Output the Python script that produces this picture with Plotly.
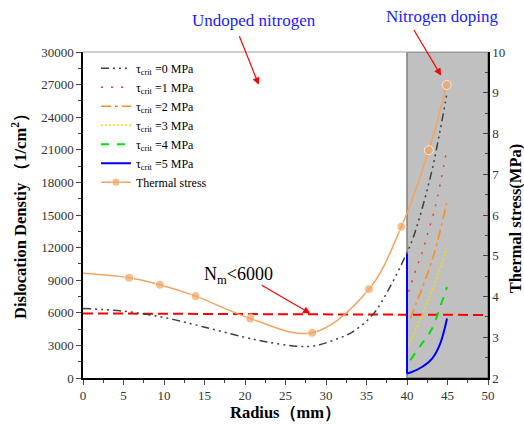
import plotly.graph_objects as go

# ---------------- data ----------------
# Thermal stress (right axis, MPa); first point is line start (no marker)
ts_x = [0, 5.7, 9.5, 13.9, 20.65, 28.3, 35.3, 39.3, 42.7, 44.9]
ts_y = [4.57, 4.46, 4.29, 4.01, 3.46, 3.11, 4.18, 5.71, 7.59, 9.19]

# Dislocation density, tau_crit = 0 MPa
t0_x = [0, 5.0, 10.0, 14.9, 19.8, 22.7, 26.4, 28.5, 30.9, 33.4, 35.9, 37.9, 39.6, 40.8, 42.9, 44.1, 44.9]
t0_y = [6400, 6150, 5570, 4700, 3780, 3320, 2920, 2950, 3470, 4300, 5940, 8390, 10900, 13000, 18530, 22830, 26060]
# tau_crit = 1 MPa
t1_x = [40.2, 41.2, 41.85, 42.5, 43.5, 44.9]
t1_y = [7930, 10200, 11470, 13160, 15770, 21000]
# tau_crit = 2 MPa
t2_x = [40.4, 41.85, 42.9, 43.7, 44.9]
t2_y = [5480, 8240, 10390, 12390, 16080]
# tau_crit = 3 MPa
t3_x = [40.2, 41.85, 43.1, 44.3, 44.94]
t3_y = [3010, 5780, 8080, 10550, 11930]
# tau_crit = 4 MPa
t4_x = [40.4, 41.85, 43.1, 44.1, 44.94]
t4_y = [1630, 3170, 4550, 6550, 8390]
# tau_crit = 5 MPa (vertical boundary part, then curve)
t5_edge_x = [40.0, 40.0]
t5_edge_y = [11400, 400]
t5_x = [40.0, 40.6, 41.85, 43.1, 44.1, 44.94]
t5_y = [400, 550, 1010, 1790, 3170, 5480]

# Critical line N_m < 6000
nm_x = [0, 50]
nm_y = [5940, 5800]

x_ticks = [0, 5, 10, 15, 20, 25, 30, 35, 40, 45, 50]
y_ticks = [0, 3000, 6000, 9000, 12000, 15000, 18000, 21000, 24000, 27000, 30000]
y_ticklabels = ["0", "3000", "6000", "9000", "12000", "15000", "18000", "21000", "24000", "27000", "30000"]
y2_ticks = [2, 3, 4, 5, 6, 7, 8, 9, 10]

SERIF = "Liberation Serif"

fig = go.Figure()

fig.add_trace(go.Scatter(x=nm_x, y=nm_y, mode="lines", showlegend=False,
                         line=dict(color="#ff0000", width=2, dash="10px,5px")))

fig.add_trace(go.Scatter(x=t0_x, y=t0_y, mode="lines", name="τ<sub>crit</sub> =0 MPa",
                         line=dict(color="#404040", width=1.5, dash="8px,4px,2px,4px,2px,4px,2px,4px",
                                   shape="spline")))
fig.add_trace(go.Scatter(x=t1_x, y=t1_y, mode="lines", name="τ<sub>crit</sub> =1 MPa",
                         line=dict(color="#ff3030", width=1.5, dash="2px,8px", shape="spline")))
fig.add_trace(go.Scatter(x=t2_x, y=t2_y, mode="lines", name="τ<sub>crit</sub> =2 MPa",
                         line=dict(color="#ff8c1a", width=1.5, dash="10px,4px,3px,4px", shape="spline")))
fig.add_trace(go.Scatter(x=t3_x, y=t3_y, mode="lines", name="τ<sub>crit</sub> =3 MPa",
                         line=dict(color="#e6e600", width=1.5, dash="2px,2px", shape="spline")))
fig.add_trace(go.Scatter(x=t4_x, y=t4_y, mode="lines", name="τ<sub>crit</sub> =4 MPa",
                         line=dict(color="#00e000", width=2, dash="8px,8px", shape="spline")))
fig.add_trace(go.Scatter(x=t5_edge_x, y=t5_edge_y, mode="lines", showlegend=False, legendgroup="t5",
                         line=dict(color="#0000ff", width=2)))
fig.add_trace(go.Scatter(x=t5_x, y=t5_y, mode="lines", name="τ<sub>crit</sub> =5 MPa", legendgroup="t5",
                         line=dict(color="#0000ff", width=2, shape="spline")))

fig.add_trace(go.Scatter(x=ts_x, y=ts_y, yaxis="y2", mode="lines+markers", name="Thermal stress",
                         line=dict(color="#f4a460", width=1.5, shape="spline"),
                         marker=dict(color="#f4a460", size=[0] + [9] * (len(ts_x) - 1))))

fig.add_shape(type="rect", xref="x", yref="y", x0=40, x1=50, y0=0, y1=30000,
              fillcolor="#c0c0c0", line=dict(color="#7f7f7f", width=1.5), layer="below")
fig.add_shape(type="line", xref="paper", yref="paper", x0=0, x1=1, y0=1, y1=1,
              line=dict(color="#a0a0a0", width=1))

# annotations
fig.add_annotation(text="Undoped nitrogen", xref="paper", yref="paper", x=0.423, y=1.096,
                   xanchor="center", yanchor="middle",
                   showarrow=False, font=dict(family=SERIF, size=17, color="#1a1aff"))
fig.add_annotation(text="Nitrogen doping", xref="paper", yref="paper", x=0.887, y=1.108,
                   xanchor="center", yanchor="middle",
                   showarrow=False, font=dict(family=SERIF, size=17, color="#1a1aff"))
fig.add_annotation(text="N<sub>m</sub>&lt;6000", xref="x", yref="y", x=19.2, y=9470,
                   xanchor="center", yanchor="middle",
                   showarrow=False, font=dict(family=SERIF, size=18, color="#000000"))
arrow_common = dict(showarrow=True, arrowhead=2, arrowsize=1.2, arrowwidth=1.2,
                    arrowcolor="#ff0000", text="", axref="pixel", ayref="pixel")
fig.add_annotation(xref="x", yref="y", x=21.7, y=26985, ax=-20, ay=-50, **arrow_common)
fig.add_annotation(xref="x", yref="y", x=44.2, y=27840, ax=-28, ay=-47, **arrow_common)
fig.add_annotation(xref="x", yref="y", x=28.06, y=5937, ax=-50, ay=-29, **arrow_common)

# axis titles (placed as annotations for precise positioning)
titlefont = dict(family=SERIF, size=16.5, color="#000000")
fig.add_annotation(text="<b>Dislocation Denstiy （1/cm<sup>2</sup>）</b>", xref="paper", yref="paper",
                   x=-0.155, y=0.51, xanchor="center", yanchor="middle", textangle=-90,
                   showarrow=False, font=titlefont)
fig.add_annotation(text="<b>Thermal stress(MPa)</b>", xref="paper", yref="paper",
                   x=1.0667, y=0.49, xanchor="center", yanchor="middle", textangle=-90,
                   showarrow=False, font=titlefont)
fig.add_annotation(text="<b>Radius（mm）</b>", xref="paper", yref="paper",
                   x=0.5, y=-0.105, xanchor="center", yanchor="middle",
                   showarrow=False, font=titlefont)

tickfont = dict(family=SERIF, size=13, color="#333333")

fig.update_layout(
    width=524, height=425,
    margin=dict(l=83, r=36, t=52, b=47),
    plot_bgcolor="white", paper_bgcolor="white",
    font=dict(family=SERIF),
    xaxis=dict(range=[0, 50], tickvals=x_ticks, ticks="outside", ticklen=5, tickwidth=1.2,
               minor=dict(ticks="outside", ticklen=3, dtick=2.5, tick0=0),
               showline=True, linecolor="black", linewidth=1.5, showgrid=False, zeroline=False,
               tickfont=tickfont),
    yaxis=dict(range=[0, 30000], tickvals=y_ticks, ticktext=y_ticklabels, ticks="outside",
               ticklen=5, tickwidth=1.2,
               minor=dict(ticks="outside", ticklen=3, dtick=1500, tick0=0),
               showline=True, linecolor="black", linewidth=1.5, showgrid=False, zeroline=False,
               tickfont=tickfont),
    yaxis2=dict(range=[2, 10], tickvals=y2_ticks, overlaying="y", side="right", anchor="x",
                ticks="inside", ticklen=5, tickwidth=1.2,
                minor=dict(ticks="inside", ticklen=3, dtick=0.5, tick0=2),
                showline=True, linecolor="black", linewidth=1.5, showgrid=False, zeroline=False,
                tickfont=tickfont),
    legend=dict(x=0.032, y=0.995, xanchor="left", yanchor="top", bgcolor="rgba(0,0,0,0)",
                font=dict(family=SERIF, size=12, color="#000000"), itemwidth=30,
                tracegroupgap=0),
)

fig.write_html("out.html", config={"displayModeBar": False},
               post_script="document.body.style.margin='0';document.body.style.overflow='hidden';")
